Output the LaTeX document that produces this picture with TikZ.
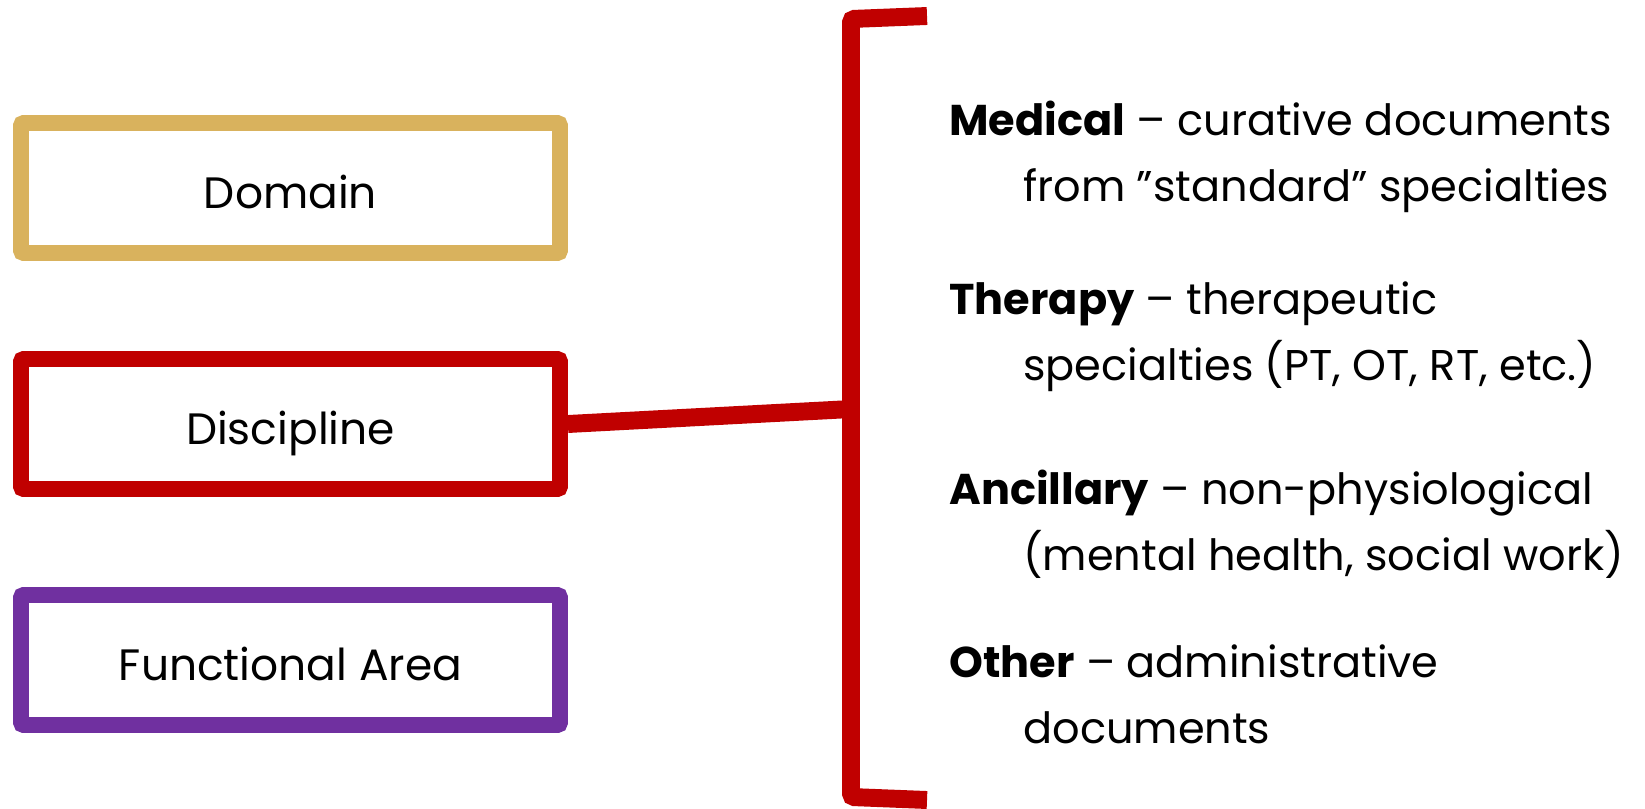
\documentclass[tikz,border=0pt]{standalone}
\usepackage{fontspec}
\setmainfont{Poppins}
\usetikzlibrary{positioning}
\definecolor{tbGold}{RGB}{217,178,93}
\definecolor{tbRed}{RGB}{192,0,0}
\definecolor{tbPurple}{RGB}{112,48,160}

\begin{document}
\begin{tikzpicture}[
    catbox/.style={draw, line width=9pt, rounded corners=1.5pt,
                   minimum width=10.78cm, minimum height=2.6cm,
                   text height=23pt, text depth=0pt,
                   font=\fontsize{25}{30}\selectfont},
    entry/.style={anchor=base west, inner sep=0pt, align=left,
                  font=\fontsize{24.5}{37}\selectfont},
    brace/.style={draw=tbRed, line width=10.2pt, rounded corners=2pt},
    link/.style={draw=tbRed, line width=10.2pt}
]
\useasboundingbox (0,0) rectangle (32.9,-16.16);

% --- Left column: the three categories.
\node[catbox, draw=tbGold]   (domain)     at (5.81, -3.76)  {Domain};
\node[catbox, draw=tbRed]    (discipline) at (5.81, -8.48)  {Discipline};
\node[catbox, draw=tbPurple] (funcarea)   at (5.81, -13.20) {Functional Area};

% --- Bracket on the right, opened by the discipline box.
\coordinate (brTopEnd) at (18.54, -0.32);
\coordinate (brTop)    at (17.02, -0.38);
\coordinate (brMid)    at (17.02, -8.18);
\coordinate (brBot)    at (17.02, -15.94);
\coordinate (brBotEnd) at (18.54, -16.00);
\draw[brace] (brTopEnd) -- (brTop) -- (brBot) -- (brBotEnd);
\draw[link] (discipline.east) -- (brMid);

% --- Disciplines listed next to the bracket (anchored on the
%     baseline of their second line).
\node[entry] (medical) at (18.98, -4.02)
    {\textbf{Medical} – curative documents\\
     \hspace*{1.48cm}from ”standard” specialties};
\node[entry] (therapy) at (18.98, -7.60)
    {\textbf{Therapy} – therapeutic\\
     \hspace*{1.48cm}specialties (PT, OT, RT, etc.)};
\node[entry] (ancillary) at (18.98, -11.40)
    {\textbf{Ancillary} – non-physiological\\
     \hspace*{1.48cm}(mental health, social work)};
\node[entry] (other) at (18.98, -14.86)
    {\textbf{Other} – administrative\\
     \hspace*{1.48cm}documents};

\end{tikzpicture}
\end{document}
